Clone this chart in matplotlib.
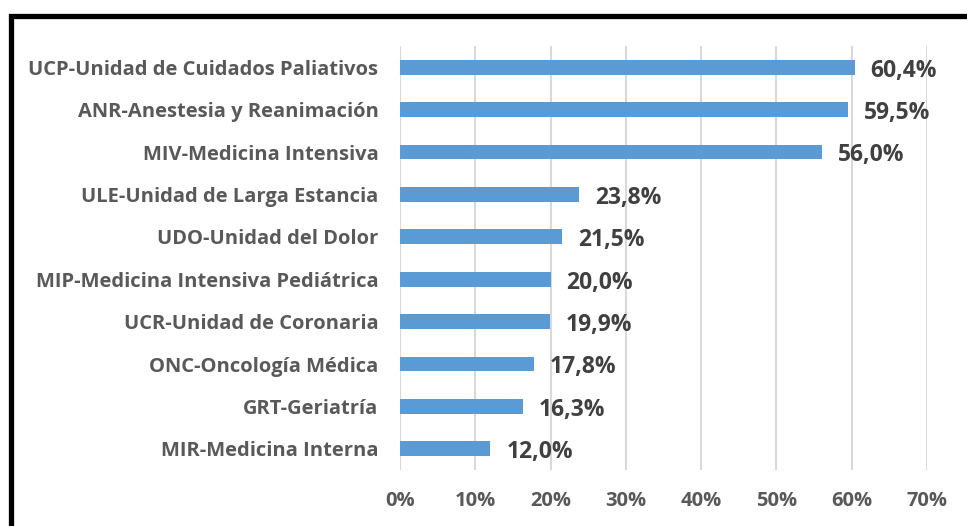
import matplotlib
matplotlib.use("Agg")
import matplotlib.pyplot as plt
from matplotlib.patches import Rectangle
from matplotlib.ticker import FuncFormatter

categories = [
    "UCP-Unidad de Cuidados Paliativos",
    "ANR-Anestesia y Reanimación",
    "MIV-Medicina Intensiva",
    "ULE-Unidad de Larga Estancia",
    "UDO-Unidad del Dolor",
    "MIP-Medicina Intensiva Pediátrica",
    "UCR-Unidad de Coronaria",
    "ONC-Oncología Médica",
    "GRT-Geriatría",
    "MIR-Medicina Interna",
]
values = [60.4, 59.5, 56.0, 23.8, 21.5, 20.0, 19.9, 17.8, 16.3, 12.0]
xticks = [0, 10, 20, 30, 40, 50, 60, 70]

plt.rcParams['font.family'] = ['Open Sans', 'DejaVu Sans']

W, H = 967, 526
fig = plt.figure(figsize=(W / 100, H / 100), dpi=100)
ax = fig.add_axes([400 / W, 1 - 470 / H, (927 - 400) / W, (470 - 46) / H])

n = len(categories)
ypos = list(range(n))
ax.barh(ypos, values, height=0.35, color="#5B9BD5", zorder=3)
ax.set_ylim(n - 0.5, -0.5)
ax.set_xlim(0, 70)
ax.set_yticks(ypos)
ax.set_yticklabels(categories, fontsize=14.5, fontweight="bold", color="#595959")
ax.set_xticks(xticks)
ax.xaxis.set_major_formatter(FuncFormatter(lambda v, p: f"{v:.0f}%"))
for lab in ax.get_xticklabels():
    lab.set_fontsize(14.5)
    lab.set_fontweight("bold")
    lab.set_color("#595959")
ax.tick_params(axis="both", length=0)
ax.tick_params(axis="y", pad=15.5)
ax.tick_params(axis="x", pad=15)
ax.grid(axis="x", color="#D9D9D9", linewidth=1.5, zorder=0)
for s in ax.spines.values():
    s.set_visible(False)

for y, v in zip(ypos, values):
    ax.annotate(f"{v:.1f}%".replace(".", ","), xy=(v, y), xytext=(11.5, -2.5),
                textcoords="offset points", va="center", ha="left",
                fontsize=16.5, fontweight="bold", color="#404040")

fig.patches.append(Rectangle((11 / W, -0.2), 1.2, 1 - 16 / H + 0.2,
                             transform=fig.transFigure, fill=False,
                             edgecolor="black", linewidth=3.8))

fig.savefig("out.png", dpi=100)
